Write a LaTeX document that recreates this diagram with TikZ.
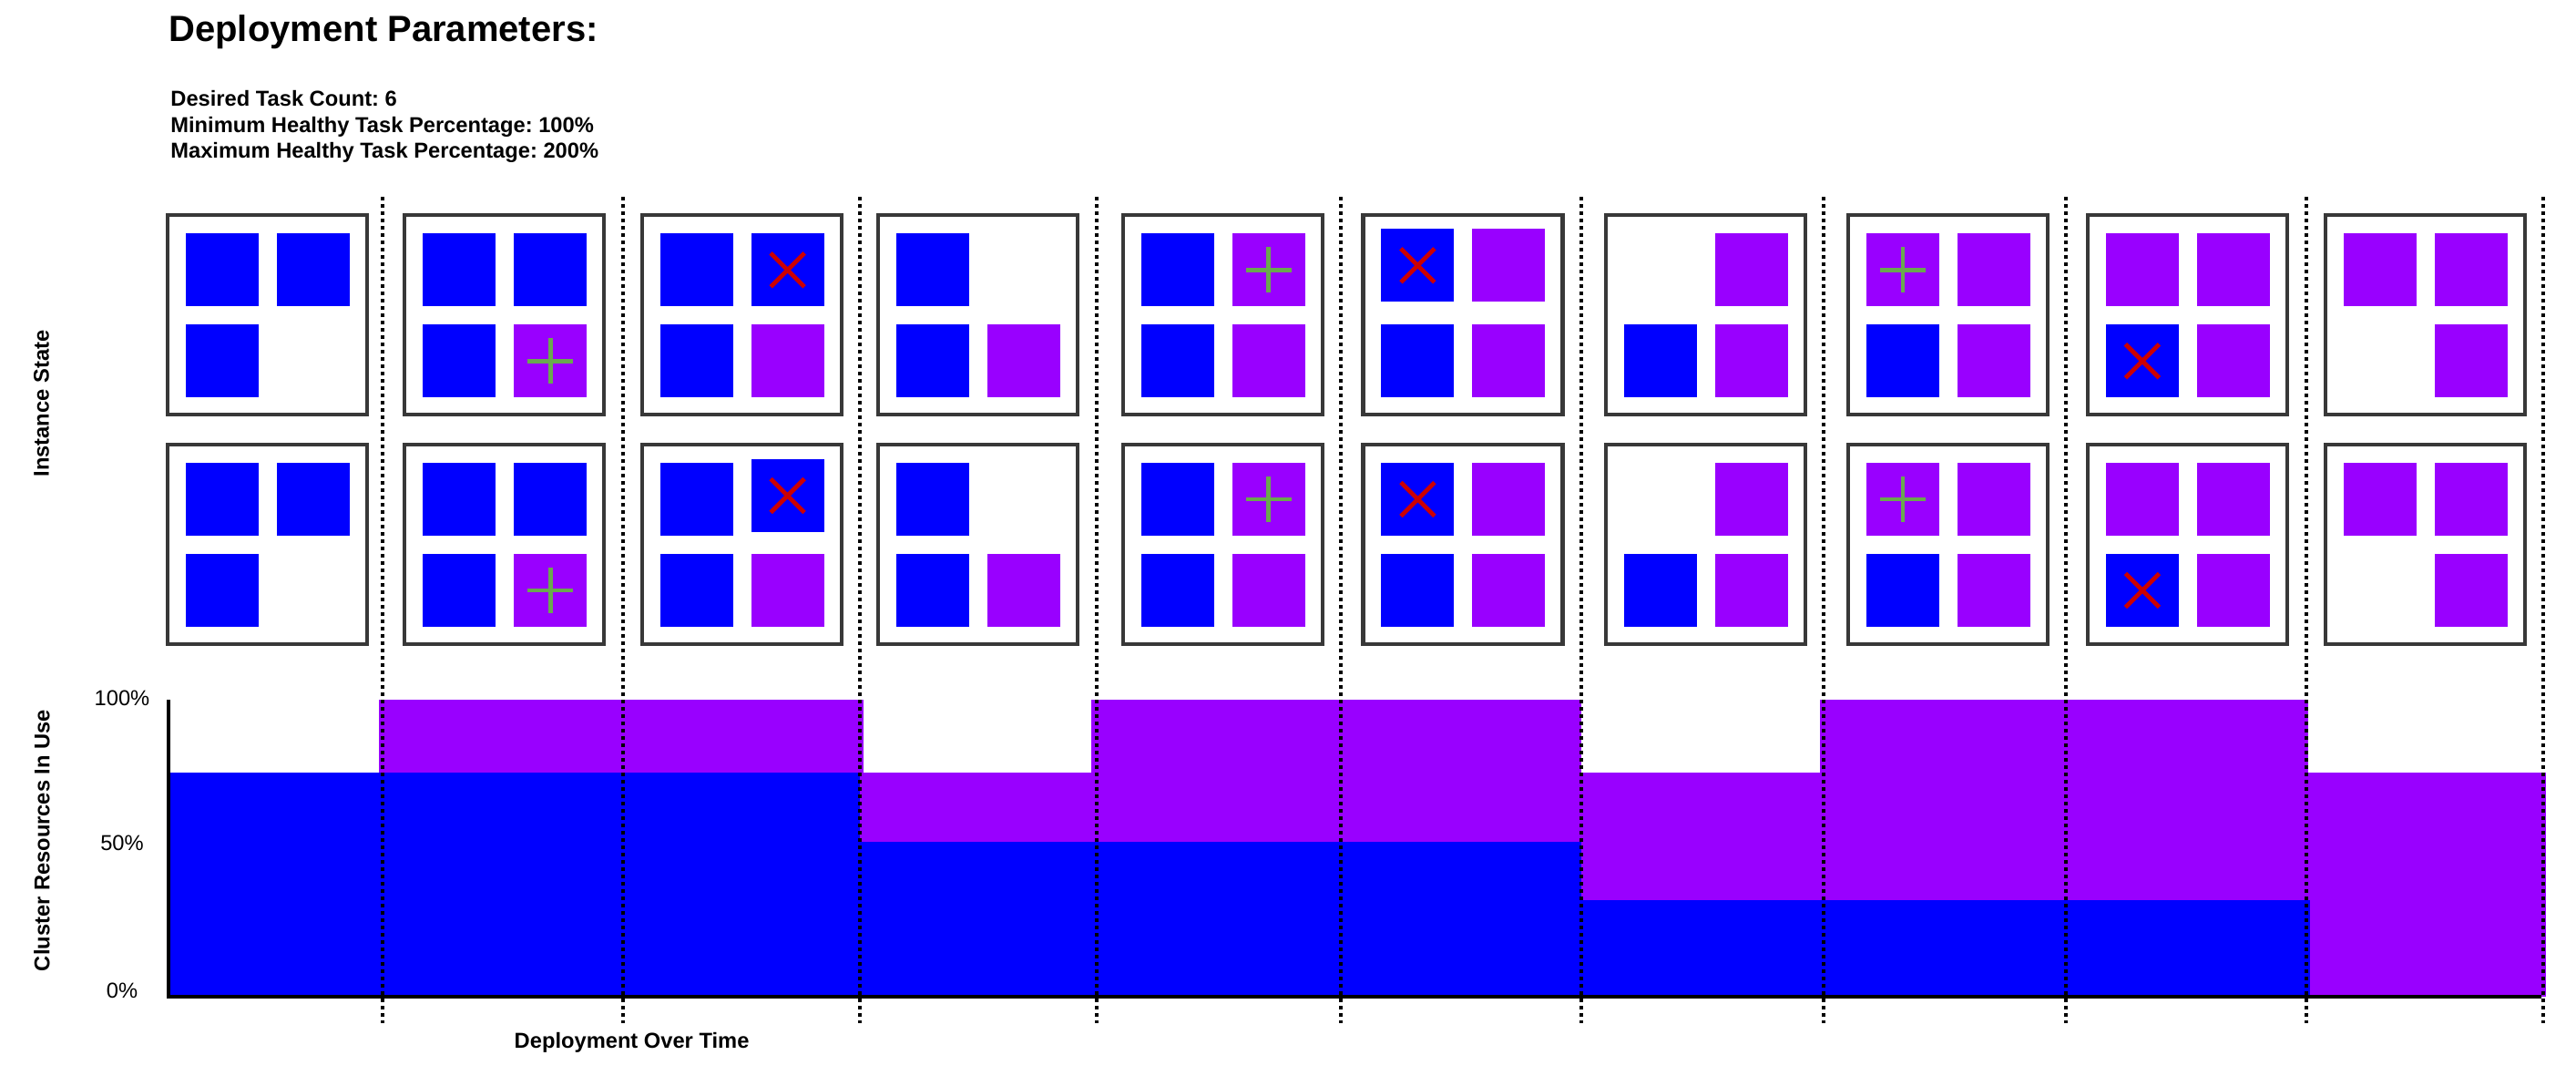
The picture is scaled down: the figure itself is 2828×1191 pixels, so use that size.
\documentclass[tikz,border=0pt]{standalone}
\usepackage{fontspec}
\setmainfont{Liberation Sans}
\frenchspacing
\definecolor{tblue}{HTML}{0000FF}
\definecolor{tpurple}{HTML}{9900FF}
\definecolor{tgreen}{HTML}{6AA84F}
\definecolor{tred}{HTML}{CC0000}
\definecolor{tgray}{HTML}{383838}
\newcommand\hostframe[2]{\draw[hostbox] (#1+2,#2+2) rectangle (#1+221,#2+221);}
\newcommand\tasksq[3]{\fill[#3] (#1,#2) rectangle (#1+80,#2+80);}
\newcommand\plusmark[2]{\draw[addmark] (#1+40,#2+15) -- (#1+40,#2+65) (#1+15,#2+40) -- (#1+65,#2+40);}
\newcommand\crossmark[2]{\draw[killmark] (#1+21.5,#2+21.5) -- (#1+58.5,#2+58.5) (#1+58.5,#2+21.5) -- (#1+21.5,#2+58.5);}
\begin{document}
\begin{tikzpicture}[x=0.5pt,y=-0.5pt,
  hostbox/.style={draw=tgray,line width=2.1pt,fill=white},
  bluesq/.style={fill=tblue},
  purplesq/.style={fill=tpurple},
  addmark/.style={draw=tgreen,line width=2.2pt},
  killmark/.style={draw=tred,line width=2.4pt},
  sepline/.style={draw=black,line width=2pt,dash pattern=on 2pt off 2pt},
  axisline/.style={draw=black,line width=2pt},
  boldlbl/.style={font=\bfseries\fontsize{11.85pt}{14pt}\selectfont,inner sep=0pt},
  ticklbl/.style={font=\fontsize{11.85pt}{14pt}\selectfont,inner sep=0pt}
]
\useasboundingbox (0,0) rectangle (2828,1191);

% ---- headings
\node[anchor=base west,inner sep=0pt,font=\bfseries\fontsize{20pt}{24pt}\selectfont] (title) at (185,45) {Deployment Parameters:};
\node[anchor=base west,boldlbl] (p1) at (187,116.7) {Desired Task Count: 6};
\node[anchor=base west,boldlbl] (p2) at (187,145) {Minimum Healthy Task Percentage: 100\%};
\node[anchor=base west,boldlbl] (p3) at (187,173.3) {Maximum Healthy Task Percentage: 200\%};

% ---- instance boxes
\foreach \ry/\ra/\rb in {234.3/0/5, 486/4/0}{
  % 1
  \hostframe{182.1}{\ry}
  \tasksq{204.1}{\ry+22}{bluesq}
  \tasksq{304.1}{\ry+22}{bluesq}
  \tasksq{204.1}{\ry+122}{bluesq}
  % 2
  \hostframe{442.3}{\ry}
  \tasksq{464.3}{\ry+22}{bluesq}
  \tasksq{564.3}{\ry+22}{bluesq}
  \tasksq{464.3}{\ry+122}{bluesq}
  \tasksq{564.3}{\ry+122}{purplesq}
  \plusmark{564.3}{\ry+122}
  % 3
  \hostframe{702.6}{\ry}
  \tasksq{724.6}{\ry+22}{bluesq}
  \tasksq{824.6}{\ry+22-\ra}{bluesq}
  \crossmark{824.6}{\ry+22-\ra}
  \tasksq{724.6}{\ry+122}{bluesq}
  \tasksq{824.6}{\ry+122}{purplesq}
  % 4
  \hostframe{962}{\ry}
  \tasksq{984}{\ry+22}{bluesq}
  \tasksq{984}{\ry+122}{bluesq}
  \tasksq{1084}{\ry+122}{purplesq}
  % 5
  \hostframe{1230.6}{\ry}
  \tasksq{1252.6}{\ry+22}{bluesq}
  \tasksq{1352.6}{\ry+22}{purplesq}
  \plusmark{1352.6}{\ry+22}
  \tasksq{1252.6}{\ry+122}{bluesq}
  \tasksq{1352.6}{\ry+122}{purplesq}
  % 6
  \hostframe{1494.4}{\ry}
  \tasksq{1516.4}{\ry+22-\rb}{bluesq}
  \crossmark{1516.4}{\ry+22-\rb}
  \tasksq{1616.4}{\ry+22-\rb}{purplesq}
  \tasksq{1516.4}{\ry+122}{bluesq}
  \tasksq{1616.4}{\ry+122}{purplesq}
  % 7
  \hostframe{1760.7}{\ry}
  \tasksq{1882.7}{\ry+22}{purplesq}
  \tasksq{1782.7}{\ry+122}{bluesq}
  \tasksq{1882.7}{\ry+122}{purplesq}
  % 8
  \hostframe{2026.7}{\ry}
  \tasksq{2048.7}{\ry+22}{purplesq}
  \plusmark{2048.7}{\ry+22}
  \tasksq{2148.7}{\ry+22}{purplesq}
  \tasksq{2048.7}{\ry+122}{bluesq}
  \tasksq{2148.7}{\ry+122}{purplesq}
  % 9
  \hostframe{2289.9}{\ry}
  \tasksq{2311.9}{\ry+22}{purplesq}
  \tasksq{2411.9}{\ry+22}{purplesq}
  \tasksq{2311.9}{\ry+122}{bluesq}
  \crossmark{2311.9}{\ry+122}
  \tasksq{2411.9}{\ry+122}{purplesq}
  % 10
  \hostframe{2550.8}{\ry}
  \tasksq{2572.8}{\ry+22}{purplesq}
  \tasksq{2672.8}{\ry+22}{purplesq}
  \tasksq{2672.8}{\ry+122}{purplesq}
}

% ---- resource chart
\fill[tpurple] (415.8,768) rectangle (948,1094);
\fill[tpurple] (944,848) rectangle (1198,1094);
\fill[tpurple] (1198,768) rectangle (1736,1094);
\fill[tpurple] (1736,848) rectangle (1998,1094);
\fill[tpurple] (1998,768) rectangle (2534,1094);
\fill[tpurple] (2534,848) rectangle (2795.4,1094);
\fill[tblue] (184,848) rectangle (944,1094);
\fill[tblue] (944,924) rectangle (1736,1094);
\fill[tblue] (1736,988) rectangle (2535.7,1094);

\coordinate (ytop) at (184.7,768.3);
\coordinate (origin) at (184.7,1094);
\coordinate (xend) at (2790,1094);
\draw[axisline] (ytop) -- (origin) -- (xend);

% ---- separators
\foreach \sx in {420,684,944,1204,1472,1736,2001.5,2267.5,2532.3,2791.6}{
  \draw[sepline] (\sx,216) -- (\sx,1123);
}

% ---- labels
\node[boldlbl,rotate=90] (inst) at (45.5,443) {Instance State};
\node[boldlbl,rotate=90] (clus) at (46,922.5) {Cluster Resources In Use};
\node[ticklbl] (t100) at (134,766.7) {100\%};
\node[ticklbl] (t50) at (134,925.8) {50\%};
\node[ticklbl] (t0) at (134,1087.5) {0\%};
\node[boldlbl] (xlab) at (693.6,1144) {Deployment Over Time};
\end{tikzpicture}
\end{document}
